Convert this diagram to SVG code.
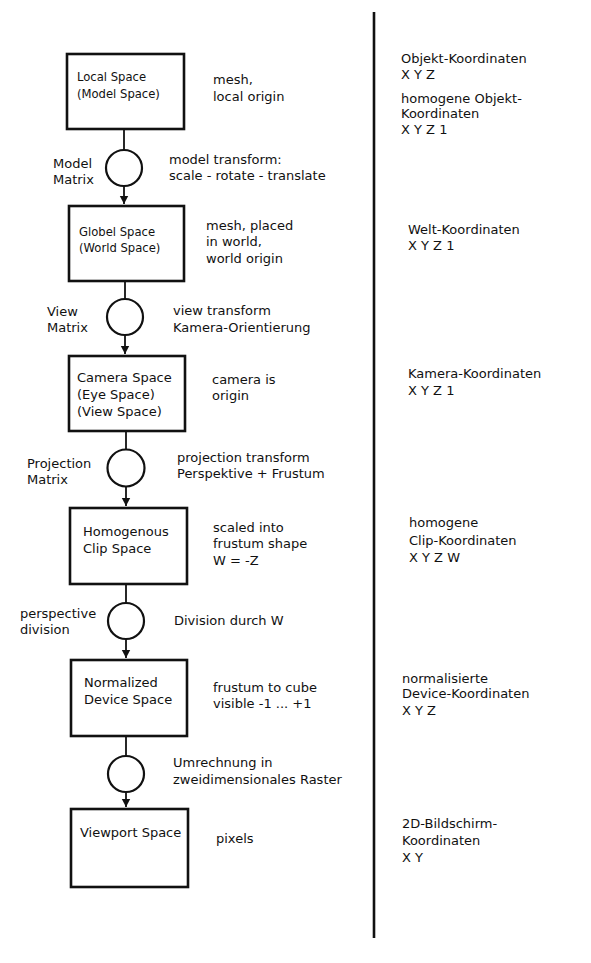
<svg xmlns="http://www.w3.org/2000/svg" width="591" height="963" viewBox="0 0 591 963">
<defs>
<style>
text{font-family:"DejaVu Sans","Liberation Sans",sans-serif;font-size:13px;fill:#111}
.sm{font-size:11.6px}
.box{fill:#fff;stroke:#111;stroke-width:2.6}
.op{fill:#fff;stroke:#111;stroke-width:2.2}
.ln{stroke:#111;stroke-width:1.8;fill:none}
</style>
<marker id="ah" markerUnits="userSpaceOnUse" markerWidth="10" markerHeight="10" viewBox="0 0 10 10" refX="9" refY="5" orient="auto">
<path d="M1,0.8 L9,5 L1,9.2 Z" fill="#111"/>
</marker>
</defs>
<rect width="591" height="963" fill="#fff"/>
<g id="connectors">
<line class="ln" x1="124" y1="129" x2="124" y2="150"/>
<line class="ln" x1="124" y1="186" x2="124" y2="204" marker-end="url(#ah)"/>
<line class="ln" x1="125" y1="281" x2="125" y2="299"/>
<line class="ln" x1="125" y1="335" x2="125" y2="354" marker-end="url(#ah)"/>
<line class="ln" x1="126" y1="431" x2="126" y2="449"/>
<line class="ln" x1="126" y1="487" x2="126" y2="506" marker-end="url(#ah)"/>
<line class="ln" x1="126" y1="584" x2="126" y2="603"/>
<line class="ln" x1="126" y1="639" x2="126" y2="658" marker-end="url(#ah)"/>
<line class="ln" x1="126" y1="736" x2="126" y2="756"/>
<line class="ln" x1="126" y1="792" x2="126" y2="807" marker-end="url(#ah)"/>
</g>
<line id="divider" x1="374" y1="12" x2="374" y2="938" stroke="#111" stroke-width="2.6"/>
<g id="local-space">
<rect class="box" x="67" y="54" width="117" height="75"/>
<text class="sm" x="77" y="81">Local Space</text>
<text class="sm" x="77" y="98">(Model Space)</text>
<text x="213" y="84">mesh,</text>
<text x="213" y="101">local origin</text>
</g>
<g id="model-matrix">
<circle class="op" cx="124" cy="168" r="18"/>
<text x="53" y="168">Model</text>
<text x="53" y="184">Matrix</text>
<text x="169" y="164">model transform:</text>
<text x="169" y="180">scale - rotate - translate</text>
</g>
<g id="global-space">
<rect class="box" x="69" y="206" width="115" height="75"/>
<text class="sm" x="79" y="236">Globel Space</text>
<text class="sm" x="79" y="252">(World Space)</text>
<text x="206" y="230">mesh, placed</text>
<text x="206" y="246">in world,</text>
<text x="206" y="263">world origin</text>
</g>
<g id="view-matrix">
<circle class="op" cx="125" cy="317" r="18"/>
<text x="47" y="316">View</text>
<text x="47" y="332">Matrix</text>
<text x="173" y="315">view transform</text>
<text x="173" y="332">Kamera-Orientierung</text>
</g>
<g id="camera-space">
<rect class="box" x="69" y="356" width="116" height="75"/>
<text x="77" y="382">Camera Space</text>
<text x="77" y="399">(Eye Space)</text>
<text x="77" y="416">(View Space)</text>
<text x="212" y="384">camera is</text>
<text x="212" y="400">origin</text>
</g>
<g id="projection-matrix">
<circle class="op" cx="126" cy="468" r="18.5"/>
<text x="27" y="468">Projection</text>
<text x="27" y="484">Matrix</text>
<text x="177" y="462">projection transform</text>
<text x="177" y="478">Perspektive + Frustum</text>
</g>
<g id="clip-space">
<rect class="box" x="70" y="508" width="117" height="76"/>
<text x="83" y="536">Homogenous</text>
<text x="83" y="553">Clip Space</text>
<text x="213" y="532">scaled into</text>
<text x="213" y="548">frustum shape</text>
<text x="213" y="565">W = -Z</text>
</g>
<g id="perspective-division">
<circle class="op" cx="126" cy="621" r="18"/>
<text x="20" y="618">perspective</text>
<text x="20" y="634">division</text>
<text x="174" y="625">Division durch W</text>
</g>
<g id="ndc-space">
<rect class="box" x="71" y="660" width="116" height="76"/>
<text x="84" y="687">Normalized</text>
<text x="84" y="704">Device Space</text>
<text x="213" y="692">frustum to cube</text>
<text x="213" y="708">visible -1 ... +1</text>
</g>
<g id="raster">
<circle class="op" cx="126" cy="774" r="18"/>
<text x="173" y="767">Umrechnung in</text>
<text x="173" y="784">zweidimensionales Raster</text>
</g>
<g id="viewport-space">
<rect class="box" x="71" y="809" width="117" height="78"/>
<text x="80" y="837">Viewport Space</text>
<text x="216" y="843">pixels</text>
</g>
<g id="coords">
<text x="401" y="63">Objekt-Koordinaten</text>
<text x="401" y="79">X Y Z</text>
<text x="401" y="103">homogene Objekt-</text>
<text x="401" y="118">Koordinaten</text>
<text x="401" y="134">X Y Z 1</text>
<text x="408" y="234">Welt-Koordinaten</text>
<text x="408" y="250">X Y Z 1</text>
<text x="408" y="378">Kamera-Koordinaten</text>
<text x="408" y="395">X Y Z 1</text>
<text x="409" y="527">homogene</text>
<text x="409" y="545">Clip-Koordinaten</text>
<text x="409" y="562">X Y Z W</text>
<text x="402" y="683">normalisierte</text>
<text x="402" y="698">Device-Koordinaten</text>
<text x="402" y="715">X Y Z</text>
<text x="402" y="828">2D-Bildschirm-</text>
<text x="402" y="845">Koordinaten</text>
<text x="402" y="862">X Y</text>
</g>
</svg>
